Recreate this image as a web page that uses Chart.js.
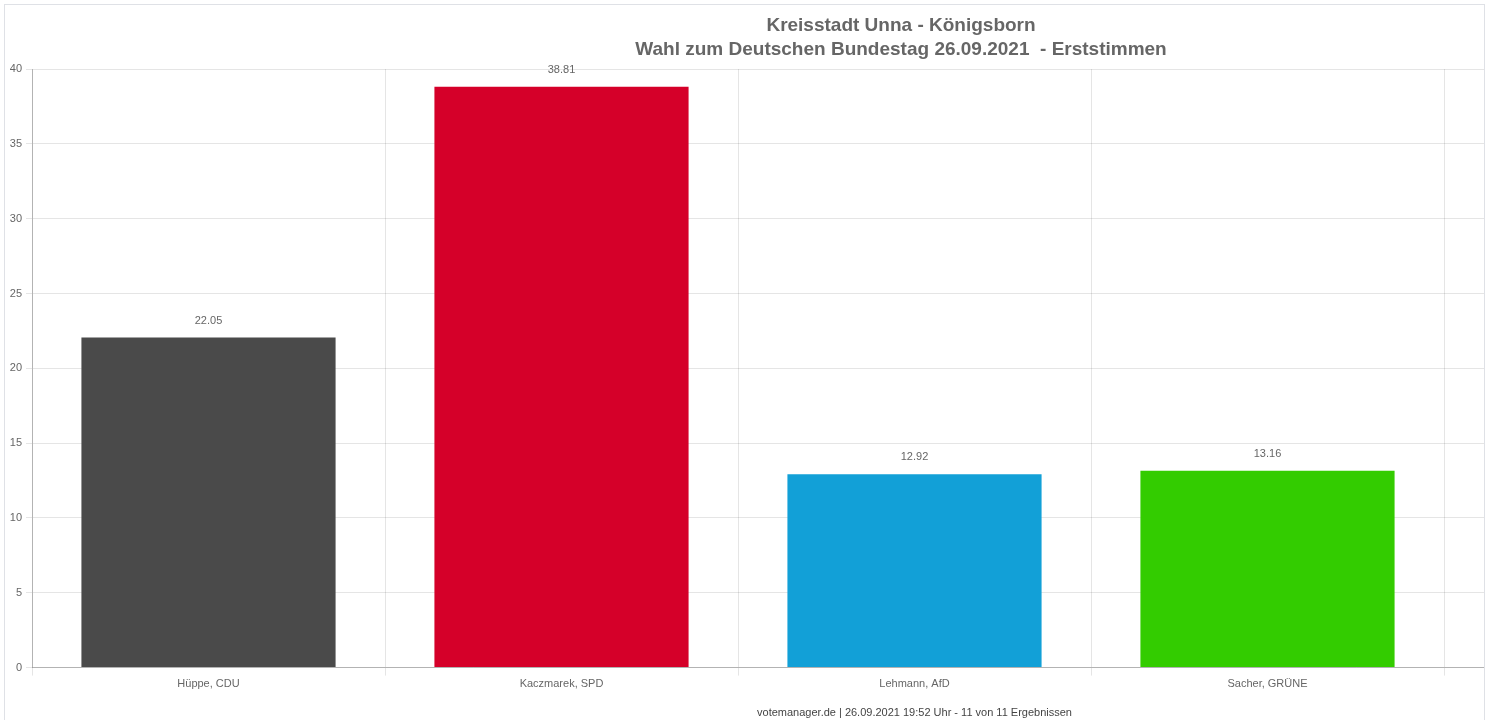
<!DOCTYPE html>
<html>
<head>
<meta charset="utf-8">
<script src="https://cdn.jsdelivr.net/npm/chart.js@4/dist/chart.umd.min.js"></script>
<style>
  html, body { margin: 0; padding: 0; background: #fff; overflow: hidden; }
  #box { position: absolute; left: 4px; top: 4px; width: 1479px; height: 740px;
         border: 1px solid #dfe1e6; overflow: hidden; background: #fff; }
  #c { position: absolute; left: 0; top: 0; }
</style>
</head>
<body>
<div id="box"><canvas id="c" width="1792" height="717"></canvas></div>
<script>
const categories = ['Hüppe, CDU', 'Kaczmarek, SPD', 'Lehmann, AfD', 'Sacher, GRÜNE', ''];
const values = [22.05, 38.81, 12.92, 13.16, null];
const barColors = ['#4a4a4a', '#d50029', '#12a0d7', '#33cc00', '#999999'];
const titleLines = ['Kreisstadt Unna - Königsborn', 'Wahl zum Deutschen Bundestag 26.09.2021  - Erststimmen'];
const footerText = 'votemanager.de | 26.09.2021 19:52 Uhr - 11 von 11 Ergebnissen';
const yTicks = { min: 0, max: 40, step: 5 };

const FONT = "'Liberation Sans', Arial, sans-serif";

const valueLabels = {
  id: 'valueLabels',
  afterDatasetsDraw(chart) {
    const ctx = chart.ctx;
    const meta = chart.getDatasetMeta(0);
    ctx.save();
    ctx.font = '11px ' + FONT;
    ctx.fillStyle = '#666';
    ctx.textAlign = 'center';
    ctx.textBaseline = 'middle';
    meta.data.forEach((el, i) => {
      const v = values[i];
      if (v === null || v === undefined) return;
      ctx.fillText(v.toFixed(2), el.x, el.y - 17);
    });
    ctx.restore();
  }
};

new Chart(document.getElementById('c'), {
  type: 'bar',
  data: {
    labels: categories,
    datasets: [{
      data: values,
      backgroundColor: barColors,
      borderWidth: 0
    }]
  },
  options: {
    responsive: false,
    animation: false,
    events: [],
    layout: { padding: { left: 0, right: 0, top: 0, bottom: 0 } },
    plugins: {
      legend: { display: false },
      tooltip: { enabled: false },
      title: {
        display: true,
        text: titleLines,
        color: '#666',
        font: { family: FONT, size: 19, weight: 'bold', lineHeight: 1.25 },
        padding: { top: 9, bottom: 7.5 }
      }
    },
    scales: {
      x: {
        grid: { color: 'rgba(0,0,0,0.1)', tickLength: 8, offset: true },
        border: { color: 'rgba(0,0,0,0.22)' },
        ticks: { color: '#666', font: { family: FONT, size: 11 }, padding: 2, maxRotation: 0, autoSkip: false },
        title: {
          display: true,
          text: footerText,
          color: '#444',
          font: { family: FONT, size: 11 },
          padding: { top: 14, bottom: 2 }
        }
      },
      y: {
        min: yTicks.min,
        max: yTicks.max,
        grid: { color: 'rgba(0,0,0,0.1)', tickLength: 6 },
        border: { color: 'rgba(0,0,0,0.22)' },
        ticks: { stepSize: yTicks.step, color: '#666', font: { family: FONT, size: 11 }, padding: 4 },
        afterFit(scale) { scale.width = 27; }
      }
    }
  },
  plugins: [valueLabels]
});
</script>
</body>
</html>
